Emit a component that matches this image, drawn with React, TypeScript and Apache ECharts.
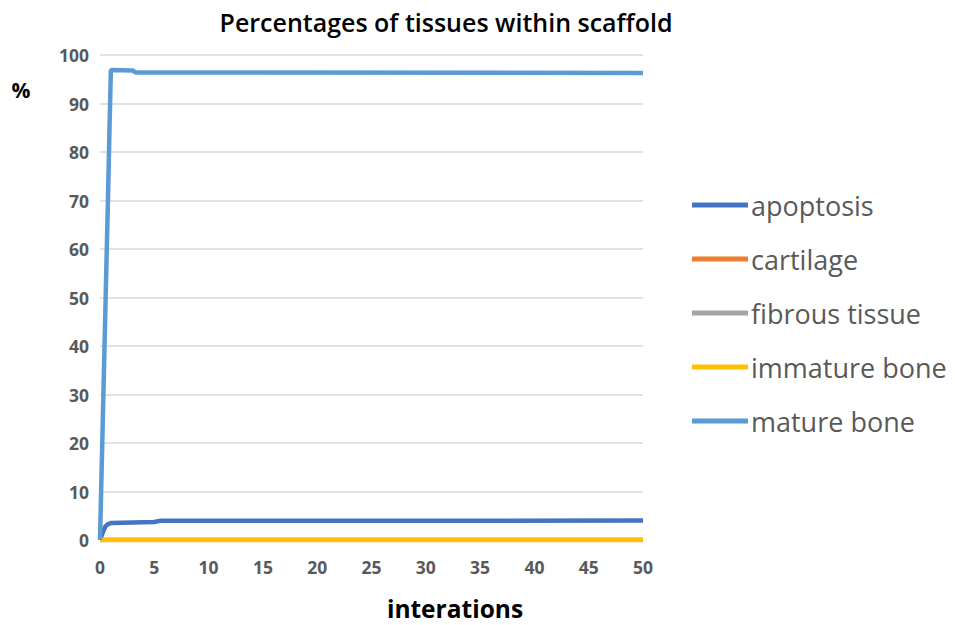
import React, { useEffect, useRef } from "react";
import * as echarts from "echarts";

const seriesNames = ["apoptosis", "cartilage", "fibrous tissue", "immature bone", "mature bone"];
const seriesColors = ["#4472C4", "#ED7D31", "#A5A5A5", "#FFC000", "#5B9BD5"];

const apoptosis: [number, number][] = [
  [0, 0], [0.25, 1.5], [0.5, 2.8], [0.75, 3.3], [1, 3.5], [5, 3.7], [5.5, 3.95], [50, 4.0],
];
const cartilage: [number, number][] = [[0, 0], [50, 0]];
const fibrous: [number, number][] = [[0, 0], [50, 0]];
const immature: [number, number][] = [[0, 0], [50, 0]];
const mature: [number, number][] = [
  [0, 0], [0.125, 12], [0.25, 24], [0.375, 36], [0.5, 48], [0.625, 60], [0.75, 72],
  [0.875, 85], [1, 96.9], [3, 96.8], [3.3, 96.4], [50, 96.3],
];

const allData = [apoptosis, cartilage, fibrous, immature, mature];

const FONT = "'Open Sans', Lato, sans-serif";

export default function App() {
  const ref = useRef<HTMLDivElement>(null);
  useEffect(() => {
    document.body.style.margin = "0";
    const chart = echarts.init(ref.current!, null, { renderer: "svg" });
    chart.setOption({
      animation: false,
      backgroundColor: "#ffffff",
      textStyle: { fontFamily: FONT },
      grid: { left: 100, right: 312, top: 55, bottom: 85, containLabel: false },
      graphic: [
        {
          type: "text", x: 446, y: 22,
          style: { text: "Percentages of tissues within scaffold", fill: "#000", font: `600 25px ${FONT}`, textAlign: "center", textVerticalAlign: "middle" },
        },
        {
          type: "text", x: 21, y: 90,
          style: { text: "%", fill: "#000", font: `bold 21px ${FONT}`, textAlign: "center", textVerticalAlign: "middle" },
        },
        {
          type: "text", x: 455, y: 608,
          style: { text: "interations", fill: "#000", font: `bold 24.5px ${FONT}`, textAlign: "center", textVerticalAlign: "middle" },
        },
      ],
      legend: {
        orient: "vertical",
        left: 692,
        top: 188,
        padding: 0,
        icon: "rect",
        itemWidth: 56,
        itemHeight: 5,
        itemGap: 20,
        data: seriesNames,
        textStyle: { color: "#595959", fontSize: 27, fontFamily: FONT, lineHeight: 34, padding: [0, 0, 0, -2] },
      },
      xAxis: {
        type: "value",
        min: 0,
        max: 50,
        interval: 5,
        axisLine: { show: false },
        axisTick: { show: false },
        splitLine: { show: false },
        axisLabel: { color: "#595959", fontSize: 17.5, fontWeight: "bold", margin: 18, fontFamily: FONT },
      },
      yAxis: {
        type: "value",
        min: 0,
        max: 100,
        interval: 10,
        axisLine: { show: false },
        axisTick: { show: false },
        splitLine: { lineStyle: { color: "#D9D9D9", width: 1.5 } },
        axisLabel: { color: "#595959", fontSize: 17.5, fontWeight: "bold", margin: 11, fontFamily: FONT },
      },
      series: seriesNames.map((name, i) => ({
        name,
        type: "line",
        data: allData[i],
        showSymbol: false,
        symbol: "none",
        color: seriesColors[i],
        lineStyle: { width: 4.5, color: seriesColors[i] },
        z: 2 + i,
      })),
    });
    return () => chart.dispose();
  }, []);
  return <div ref={ref} style={{ width: 955, height: 625 }} />;
}
